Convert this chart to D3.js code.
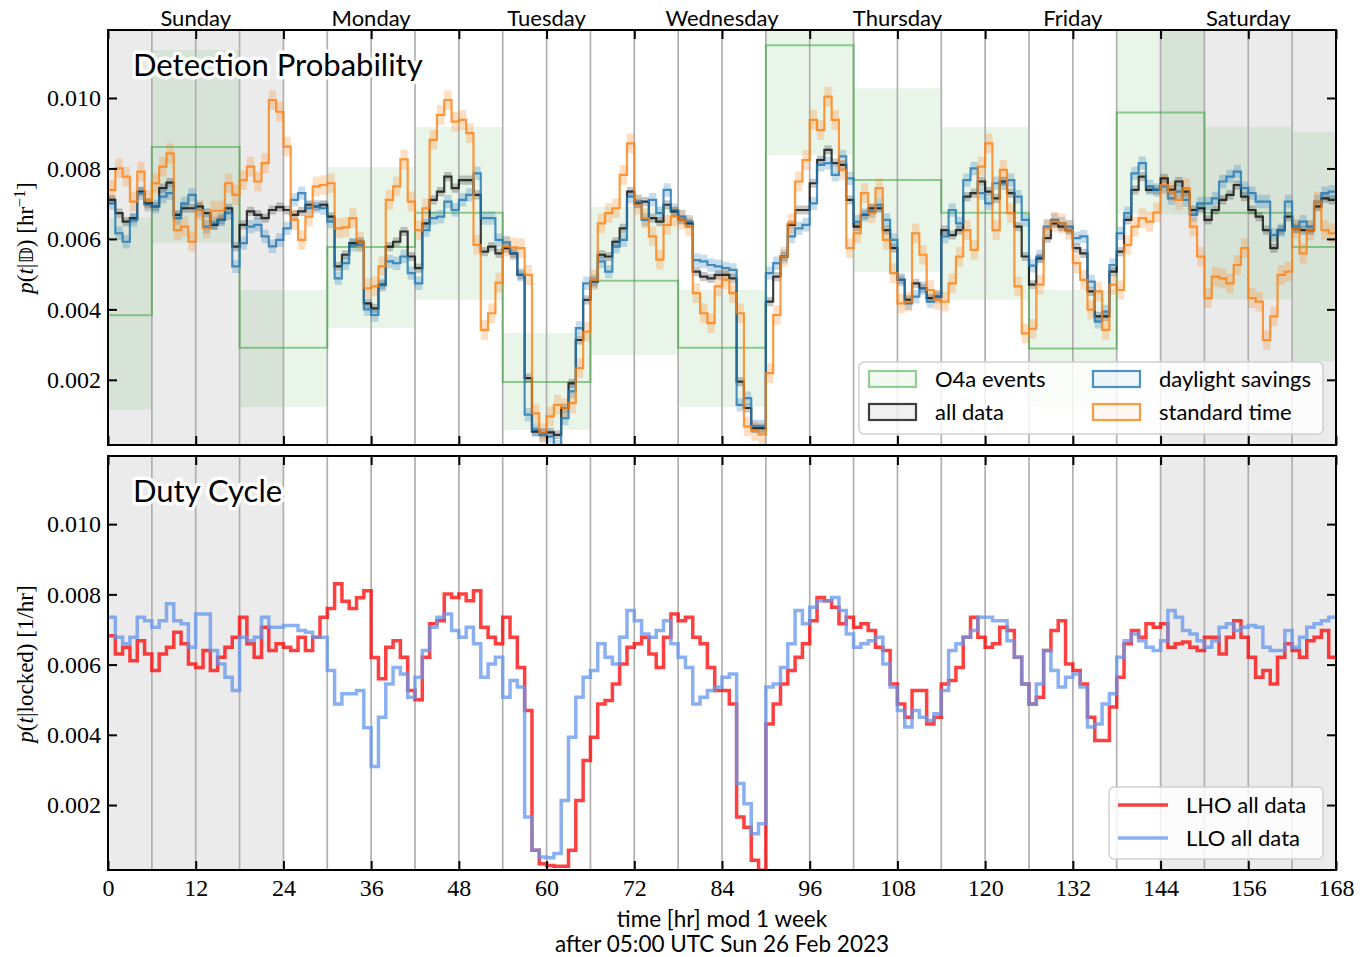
<!DOCTYPE html>
<html>
<head>
<meta charset="utf-8">
<script src="https://cdn.jsdelivr.net/npm/d3@7"></script>
<style>
  body { margin: 0; background: #fff; }
</style>
</head>
<body>
<svg id="chart" width="1366" height="957"></svg>
<script>
var SANS = 'Lato, "Open Sans", sans-serif'
var SERIF = '"Liberation Serif", "DejaVu Serif", serif'

// ---- data (rates in units of 1e-3 per hr), one value per hour, 0..167 ----
var dayNames = ['Sunday', 'Monday', 'Tuesday', 'Wednesday', 'Thursday', 'Friday', 'Saturday']
var dayCenters = [12, 36, 60, 84, 108, 132, 156]
var weekendSpans = [[0, 24], [144, 168]]
var xTicks = [0, 12, 24, 36, 48, 60, 72, 84, 96, 108, 120, 132, 144, 156, 168]
var yTicks = [2, 4, 6, 8, 10]
var gridHours = [6, 12, 18, 24, 30, 36, 42, 48, 54, 60, 66, 72, 78, 84, 90, 96, 102, 108, 114, 120, 126, 132, 138, 144, 150, 156, 162]

// O4a events: bin edges, rate and band
var o4aEdges = [0, 6, 18, 30, 42, 54, 66, 78, 90, 102, 114, 126, 138, 150, 162, 168]
var o4aRate = [3.83, 8.61, 2.91, 5.77, 6.74, 1.94, 4.81, 2.91, 11.5, 7.67, 6.74, 2.89, 9.59, 6.74, 5.77]
var o4aLow  = [1.15, 5.89, 1.23, 3.47, 4.27, 0.58, 2.71, 1.23, 8.38, 5.06, 4.27, 1.23, 6.69, 4.28, 2.53]
var o4aHigh = [6.60, 11.36, 4.55, 8.04, 9.18, 3.33, 6.91, 4.55, 14.6, 10.28, 9.18, 4.55, 12.5, 9.18, 9.04]

var allData = [
  7.11, 6.73, 6.49, 6.59, 7.34, 7.01, 6.92, 7.44, 7.60, 6.68,
  6.87, 6.87, 6.92, 6.73, 6.40, 6.54, 6.87, 5.78, 6.40, 6.78,
  6.68, 6.59, 6.82, 6.90, 6.82, 6.68, 6.78, 6.97, 6.92, 6.97,
  6.63, 5.22, 5.55, 5.88, 5.92, 4.17, 4.03, 4.70, 5.78, 5.92,
  6.21, 5.50, 5.17, 6.44, 7.11, 7.34, 7.77, 7.44, 7.67, 7.67,
  7.25, 5.64, 5.78, 5.59, 5.74, 5.59, 4.98, 2.05, 0.53, 0.49,
  0.51, 0.44, 1.20, 1.90, 3.13, 4.27, 4.79, 5.55, 5.50, 5.92,
  6.30, 7.34, 7.01, 7.06, 6.59, 6.49, 6.97, 6.78, 6.54, 6.44,
  5.07, 4.93, 4.88, 4.98, 4.98, 4.88, 1.95, 1.20, 0.63, 0.63,
  4.22, 4.93, 5.50, 6.40, 6.82, 6.82, 7.58, 8.24, 8.53, 8.15,
  8.10, 7.11, 6.35, 6.68, 6.87, 6.87, 6.25, 5.74, 4.84, 4.27,
  4.74, 4.60, 4.32, 4.36, 6.25, 6.11, 6.25, 7.20, 7.30, 7.63,
  7.34, 7.15, 7.63, 7.30, 6.35, 5.50, 4.70, 5.45, 6.02, 6.44,
  6.35, 6.25, 5.74, 5.59, 4.51, 3.80, 3.80, 5.07, 5.64, 6.54,
  7.39, 7.77, 7.39, 7.39, 7.72, 7.39, 7.63, 7.34, 6.82, 6.87,
  6.54, 6.82, 7.11, 7.25, 7.53, 7.20, 6.82, 6.63, 6.25, 5.74,
  6.25, 6.63, 6.30, 6.25, 6.25, 6.92, 7.15, 7.11
]
var daylight = [
  7.01, 6.16, 5.92, 6.54, 7.30, 6.97, 6.92, 7.20, 7.30, 6.59,
  7.01, 7.25, 6.82, 6.35, 6.44, 6.54, 6.73, 5.22, 5.88, 6.35,
  6.40, 6.07, 5.79, 5.97, 6.30, 7.11, 7.30, 6.87, 6.92, 6.87,
  6.49, 4.88, 5.31, 5.83, 5.83, 4.00, 3.84, 4.69, 5.36, 5.31,
  5.50, 5.03, 4.74, 6.25, 6.59, 6.63, 7.06, 6.82, 7.11, 7.25,
  7.86, 6.59, 6.59, 5.97, 5.90, 5.59, 4.98, 1.01, 0.58, 0.44,
  0.39, 0.10, 0.91, 1.67, 3.47, 4.74, 4.79, 5.36, 5.07, 5.78,
  5.97, 7.20, 7.06, 6.54, 7.11, 6.73, 7.39, 6.82, 6.63, 6.49,
  5.40, 5.36, 5.26, 5.22, 5.17, 5.12, 1.29, 1.48, 0.68, 0.68,
  5.03, 5.31, 5.50, 6.07, 6.30, 6.40, 7.01, 8.10, 8.15, 7.82,
  8.34, 7.72, 6.49, 6.68, 6.78, 6.97, 6.54, 5.97, 4.84, 4.17,
  4.36, 4.60, 4.22, 4.36, 6.07, 6.82, 6.44, 7.67, 8.00, 7.30,
  7.01, 7.58, 7.58, 7.67, 7.20, 6.54, 5.24, 5.50, 6.35, 6.54,
  6.44, 6.35, 6.02, 6.07, 4.79, 3.65, 3.94, 5.26, 6.16, 6.73,
  7.86, 8.15, 7.49, 7.39, 7.49, 7.15, 7.34, 7.11, 6.68, 7.01,
  7.01, 7.15, 7.63, 7.77, 7.91, 7.44, 7.30, 7.06, 7.06, 6.11,
  6.25, 7.06, 6.35, 6.49, 6.35, 7.06, 7.30, 7.34
]
var standard = [
  7.39, 8.00, 7.77, 7.06, 7.91, 7.11, 7.58, 8.05, 8.43, 6.25,
  6.35, 5.92, 6.82, 6.30, 6.80, 6.80, 7.58, 7.25, 7.67, 8.05,
  7.63, 8.15, 9.94, 9.61, 8.62, 6.54, 5.97, 6.63, 7.49, 7.53,
  7.58, 6.30, 6.33, 6.59, 5.92, 4.60, 4.65, 5.22, 7.11, 7.49,
  8.26, 7.06, 6.25, 6.87, 8.81, 9.52, 9.94, 9.33, 9.38, 9.00,
  5.83, 3.42, 3.89, 4.76, 5.78, 5.76, 5.74, 4.98, 1.05, 0.49,
  0.96, 1.29, 1.20, 1.34, 2.33, 3.37, 4.84, 6.44, 6.73, 6.87,
  7.82, 8.71, 6.97, 6.59, 6.07, 5.41, 6.40, 6.63, 6.54, 6.35,
  4.46, 3.89, 3.61, 4.65, 4.84, 4.46, 3.89, 0.68, 0.55, 0.45,
  2.19, 3.84, 5.50, 6.44, 7.63, 8.24, 9.38, 9.09, 10.04, 9.38,
  7.96, 5.74, 6.16, 7.30, 6.73, 7.44, 5.97, 5.03, 4.17, 4.22,
  6.16, 5.55, 4.55, 4.27, 4.22, 4.74, 5.50, 6.25, 5.69, 8.05,
  8.71, 6.25, 7.96, 6.73, 4.65, 3.32, 3.45, 4.70, 6.30, 6.49,
  6.44, 6.25, 5.31, 4.84, 3.99, 4.51, 3.42, 4.70, 4.55, 5.83,
  6.35, 6.59, 6.49, 6.75, 7.53, 7.34, 7.11, 7.44, 6.35, 5.50,
  4.32, 4.93, 4.88, 4.74, 5.26, 5.74, 4.32, 4.22, 3.13, 3.80,
  4.98, 5.07, 6.30, 5.59, 6.25, 7.06, 6.25, 6.16
]
// half-widths of the shaded uncertainty bands (1e-3 / hr)
var bandAll = 0.13, bandDaylight = 0.19, bandStandard = 0.28

var lho = [
  6.82, 6.30, 6.49, 6.11, 6.68, 6.30, 5.83, 6.30, 6.49, 6.92,
  6.59, 6.02, 5.92, 6.40, 5.83, 6.21, 6.49, 6.78, 7.35, 6.59,
  6.21, 7.06, 6.40, 6.59, 6.49, 6.40, 6.78, 6.40, 6.78, 7.35,
  7.60, 8.30, 7.80, 7.60, 7.90, 8.10, 6.20, 5.60, 6.49, 6.68,
  6.21, 5.26, 5.00, 6.21, 7.16, 7.25, 8.01, 7.91, 8.01, 7.82,
  8.10, 7.06, 6.78, 6.59, 7.35, 6.78, 5.92, 4.69, 0.71, 0.33,
  0.28, 0.26, 0.26, 0.71, 2.13, 3.27, 3.93, 4.88, 4.98, 5.45,
  6.02, 6.49, 6.59, 6.78, 6.30, 5.92, 6.78, 7.44, 7.25, 7.35,
  6.78, 6.59, 5.92, 5.26, 5.26, 4.88, 1.66, 1.37, 0.43, 0.14,
  4.31, 4.88, 5.45, 5.83, 6.21, 6.59, 7.25, 7.91, 7.82, 7.63,
  7.16, 7.35, 7.06, 7.16, 6.97, 6.49, 6.40, 5.45, 4.88, 4.50,
  5.26, 5.26, 4.31, 4.50, 5.45, 5.55, 5.92, 6.78, 7.35, 6.78,
  6.49, 6.59, 7.06, 6.97, 6.21, 5.45, 4.88, 5.07, 6.40, 6.97,
  7.25, 6.02, 5.83, 5.45, 4.50, 3.84, 3.84, 4.79, 5.64, 6.59,
  6.97, 6.78, 7.16, 7.06, 7.16, 6.49, 6.59, 6.64, 6.49, 6.40,
  6.78, 6.78, 6.30, 6.78, 7.25, 6.78, 6.21, 5.64, 5.83, 5.45,
  6.21, 6.59, 6.40, 6.21, 6.68, 6.78, 6.97, 6.21
]
var llo = [
  7.35, 6.78, 6.59, 6.78, 7.35, 7.25, 7.06, 7.25, 7.73, 7.25,
  7.16, 6.49, 7.44, 7.44, 6.40, 6.02, 5.64, 5.26, 6.78, 6.68,
  6.78, 7.35, 7.06, 7.06, 7.11, 7.11, 6.97, 6.92, 6.78, 6.78,
  5.83, 4.88, 5.17, 5.17, 5.26, 4.20, 3.10, 4.50, 5.45, 5.92,
  5.73, 5.07, 5.64, 6.40, 7.06, 7.35, 7.44, 6.97, 6.78, 7.06,
  6.59, 5.64, 6.02, 6.21, 5.07, 5.55, 5.36, 1.66, 0.71, 0.52,
  0.50, 0.62, 2.13, 3.93, 5.07, 5.64, 5.83, 6.59, 6.21, 6.02,
  6.78, 7.54, 7.25, 6.87, 6.78, 6.97, 7.25, 6.59, 6.21, 5.92,
  4.88, 5.07, 5.26, 5.36, 5.64, 5.73, 2.61, 2.04, 1.18, 1.47,
  5.36, 5.45, 5.92, 6.59, 7.54, 7.16, 7.63, 7.82, 7.82, 7.91,
  7.54, 6.87, 6.49, 6.59, 6.68, 6.78, 6.02, 5.36, 4.69, 4.22,
  4.69, 4.50, 4.41, 4.60, 5.26, 6.40, 6.59, 6.78, 6.97, 7.35,
  7.35, 7.25, 7.25, 6.68, 6.21, 5.45, 4.88, 5.45, 6.40, 5.83,
  5.36, 5.64, 5.73, 5.36, 4.22, 4.31, 4.88, 5.17, 6.21, 6.68,
  6.87, 6.68, 6.49, 6.40, 6.68, 7.54, 7.35, 6.97, 6.87, 6.68,
  6.49, 6.68, 7.06, 7.16, 6.97, 7.06, 7.11, 7.06, 6.49, 6.40,
  6.40, 6.97, 6.49, 6.78, 7.06, 7.16, 7.25, 7.35
]

// ---- layout ----
var left = 108, right = 1336
var top1 = 30, bot1 = 445, top2 = 456, bot2 = 870
var tickLen = 9

var svg = d3.select('#chart')

var x = d3.scaleLinear().domain([0, 168]).range([left, right])
var y1 = d3.scaleLinear().domain([0.15, 11.93]).range([bot1, top1])
var y2 = d3.scaleLinear().domain([0.15, 11.94]).range([bot2, top2])

function stepPoints(vals) {
  var pts = vals.map(function (v, i) { return [i, v] })
  pts.push([vals.length, vals[vals.length - 1]])
  return pts
}

function clip(id, t, b) {
  svg.append('clipPath').attr('id', id)
    .append('rect').attr('x', left).attr('y', t).attr('width', right - left).attr('height', b - t)
}
clip('clipTop', top1, bot1)
clip('clipBot', top2, bot2)

function drawBackground(g, t, b) {
  g.selectAll('rect.weekend')
    .data(weekendSpans)
    .enter().append('rect')
    .attr('class', 'weekend')
    .attr('x', function (d) { return x(d[0]) })
    .attr('width', function (d) { return x(d[1]) - x(d[0]) })
    .attr('y', t).attr('height', b - t)
    .attr('fill', '#000').attr('fill-opacity', 0.08)
}

function drawGrid(g, t, b) {
  g.selectAll('line.grid')
    .data(gridHours)
    .enter().append('line')
    .attr('class', 'grid')
    .attr('x1', function (d) { return x(d) }).attr('x2', function (d) { return x(d) })
    .attr('y1', t).attr('y2', b)
    .attr('stroke', '#b0b0b0').attr('stroke-width', 1.7)
}

function drawAxes(g, y, t, b, labelX) {
  g.append('g')
    .attr('transform', 'translate(' + left + ',0)')
    .call(d3.axisLeft(y).tickValues(yTicks).tickSize(-tickLen).tickPadding(7)
      .tickFormat(function (d) { return d3.format('.3f')(d / 1000) }))
  g.append('g')
    .attr('transform', 'translate(' + right + ',0)')
    .call(d3.axisRight(y).tickValues(yTicks).tickSize(-tickLen).tickFormat(''))
  g.append('g')
    .attr('transform', 'translate(0,' + t + ')')
    .call(d3.axisTop(x).tickValues(xTicks).tickSize(-tickLen).tickFormat(''))
  g.append('g')
    .attr('transform', 'translate(0,' + b + ')')
    .call(d3.axisBottom(x).tickValues(xTicks).tickSize(-tickLen).tickPadding(9)
      .tickFormat(labelX ? d3.format('d') : ''))
  g.selectAll('.domain').remove()
  g.selectAll('.tick line').attr('stroke', '#000').attr('stroke-width', 2)
  g.selectAll('.tick text')
    .style('font-family', SERIF).style('font-size', '24px').attr('fill', '#000')
  g.append('rect')
    .attr('x', left).attr('y', t).attr('width', right - left).attr('height', b - t)
    .attr('fill', 'none').attr('stroke', '#000').attr('stroke-width', 2)
}

function title(txt, ty) {
  svg.append('text')
    .style('font-family', SANS).style('font-size', '31px')
    .attr('x', 133).attr('y', ty)
    .attr('stroke', '#fff').attr('stroke-width', 7).attr('stroke-linejoin', 'round')
    .attr('paint-order', 'stroke')
    .attr('fill', '#000')
    .text(txt)
}

// ================= top panel =================
var gTop = svg.append('g')
drawBackground(gTop, top1, bot1)

var gTopData = gTop.append('g').attr('clip-path', 'url(#clipTop)')

var o4aBins = o4aRate.map(function (r, i) {
  return { x0: o4aEdges[i], x1: o4aEdges[i + 1], r: r, lo: o4aLow[i], hi: o4aHigh[i] }
})
gTopData.selectAll('rect.o4aband')
  .data(o4aBins)
  .enter().append('rect')
  .attr('x', function (d) { return x(d.x0) })
  .attr('width', function (d) { return x(d.x1) - x(d.x0) })
  .attr('y', function (d) { return y1(d.hi) })
  .attr('height', function (d) { return y1(d.lo) - y1(d.hi) })
  .attr('fill', '#2ca02c').attr('fill-opacity', 0.1)

drawGrid(gTop, top1, bot1)

var gTopLines = gTop.append('g').attr('clip-path', 'url(#clipTop)')

// O4a step line
var o4aPts = o4aBins.map(function (d) { return [d.x0, d.r] })
o4aPts.push([168, o4aRate[o4aRate.length - 1]])
gTopLines.append('path')
  .datum(o4aPts)
  .attr('d', d3.line().x(function (d) { return x(d[0]) }).y(function (d) { return y1(d[1]) }).curve(d3.curveStepAfter))
  .attr('fill', 'none').attr('stroke', '#2ca02c').attr('stroke-opacity', 0.5).attr('stroke-width', 2)

var series = [
  { vals: allData, color: '#000000', band: bandAll, lineOp: 0.75, bandOp: 0.22 },
  { vals: daylight, color: '#1f77b4', band: bandDaylight, lineOp: 0.8, bandOp: 0.25 },
  { vals: standard, color: '#ff7f0e', band: bandStandard, lineOp: 0.78, bandOp: 0.25 }
]
series.forEach(function (s) {
  var area = d3.area()
    .x(function (d) { return x(d[0]) })
    .y0(function (d) { return y1(d[1] - s.band) })
    .y1(function (d) { return y1(d[1] + s.band) })
    .curve(d3.curveStepAfter)
  gTopLines.append('path')
    .datum(stepPoints(s.vals))
    .attr('d', area)
    .attr('fill', s.color).attr('fill-opacity', s.bandOp)
})
series.forEach(function (s) {
  var line = d3.line()
    .x(function (d) { return x(d[0]) })
    .y(function (d) { return y1(d[1]) })
    .curve(d3.curveStepAfter)
  gTopLines.append('path')
    .datum(stepPoints(s.vals))
    .attr('d', line)
    .attr('fill', 'none')
    .attr('stroke', s.color).attr('stroke-opacity', s.lineOp).attr('stroke-width', 2.2)
})

drawAxes(gTop, y1, top1, bot1, false)

// day names along the top
svg.append('g').selectAll('text.day')
  .data(dayNames)
  .enter().append('text')
  .style('font-family', SANS).style('font-size', '22px')
  .attr('x', function (d, i) { return x(dayCenters[i]) })
  .attr('y', 26)
  .attr('text-anchor', 'middle')
  .text(function (d) { return d })

title('Detection Probability', 76)

// top legend
var legTop = svg.append('g')
legTop.append('rect')
  .attr('x', 859).attr('y', 362).attr('width', 464).attr('height', 72).attr('rx', 5)
  .attr('fill', '#fff').attr('fill-opacity', 0.82)
  .attr('stroke', '#d0d0d0').attr('stroke-width', 1.5)
var legItems = [
  { label: 'O4a events', color: '#2ca02c', op: 0.5, col: 0, row: 0 },
  { label: 'all data', color: '#000000', op: 0.75, col: 0, row: 1 },
  { label: 'daylight savings', color: '#1f77b4', op: 0.8, col: 1, row: 0 },
  { label: 'standard time', color: '#ff7f0e', op: 0.78, col: 1, row: 1 }
]
legItems.forEach(function (d) {
  var px = d.col === 0 ? 869 : 1093
  var py = d.row === 0 ? 371 : 404
  legTop.append('rect')
    .attr('x', px).attr('y', py).attr('width', 47).attr('height', 16)
    .attr('fill', d.color).attr('fill-opacity', 0.06)
    .attr('stroke', d.color).attr('stroke-opacity', d.op).attr('stroke-width', 2.2)
  legTop.append('text')
    .style('font-family', SANS).style('font-size', '22px')
    .attr('x', px + 66).attr('y', py + 16)
    .text(d.label)
})

// y label top
var yl1 = svg.append('text')
  .style('font-family', SERIF).style('font-size', '23px')
  .attr('transform', 'translate(33,' + 238 + ') rotate(-90)')
  .attr('text-anchor', 'middle')
yl1.append('tspan').attr('font-style', 'italic').text('p')
yl1.append('tspan').text('(')
yl1.append('tspan').attr('font-style', 'italic').text('t')
yl1.append('tspan').text('|')
yl1.append('tspan').style('font-family', '"DejaVu Sans", sans-serif').style('font-size', '20px').text('\u{1D53B}')
yl1.append('tspan').text(') [hr')
yl1.append('tspan').attr('baseline-shift', 'super').style('font-size', '16px').text('\u22121')
yl1.append('tspan').text(']')

// ================= bottom panel =================
var gBot = svg.append('g')
drawBackground(gBot, top2, bot2)
drawGrid(gBot, top2, bot2)

var gBotLines = gBot.append('g').attr('clip-path', 'url(#clipBot)')
var detSeries = [
  { vals: lho, color: '#ff0000', op: 0.75 },
  { vals: llo, color: '#6495ed', op: 0.75 }
]
detSeries.forEach(function (s) {
  var line = d3.line()
    .x(function (d) { return x(d[0]) })
    .y(function (d) { return y2(d[1]) })
    .curve(d3.curveStepAfter)
  gBotLines.append('path')
    .datum(stepPoints(s.vals))
    .attr('d', line)
    .attr('fill', 'none')
    .attr('stroke', s.color).attr('stroke-opacity', s.op).attr('stroke-width', 3.5)
})

drawAxes(gBot, y2, top2, bot2, true)

title('Duty Cycle', 502)

// bottom legend
var legBot = svg.append('g')
legBot.append('rect')
  .attr('x', 1109).attr('y', 787).attr('width', 214).attr('height', 72).attr('rx', 5)
  .attr('fill', '#fff').attr('fill-opacity', 0.82)
  .attr('stroke', '#d0d0d0').attr('stroke-width', 1.5)
var legDet = [
  { label: 'LHO all data', color: '#ff0000', op: 0.75, yy: 805 },
  { label: 'LLO all data', color: '#6495ed', op: 0.75, yy: 838 }
]
legDet.forEach(function (d) {
  legBot.append('line')
    .attr('x1', 1118).attr('x2', 1168).attr('y1', d.yy).attr('y2', d.yy)
    .attr('stroke', d.color).attr('stroke-opacity', d.op).attr('stroke-width', 3.5)
  legBot.append('text')
    .style('font-family', SANS).style('font-size', '22px')
    .attr('x', 1186).attr('y', d.yy + 8)
    .text(d.label)
})

// y label bottom
var yl2 = svg.append('text')
  .style('font-family', SERIF).style('font-size', '23px')
  .attr('transform', 'translate(33,' + 664 + ') rotate(-90)')
  .attr('text-anchor', 'middle')
yl2.append('tspan').attr('font-style', 'italic').text('p')
yl2.append('tspan').text('(')
yl2.append('tspan').attr('font-style', 'italic').text('t')
yl2.append('tspan').text('|locked) [1/hr]')

// x label
svg.append('text')
  .style('font-family', SANS).style('font-size', '22.5px')
  .attr('x', (left + right) / 2).attr('y', 927)
  .attr('text-anchor', 'middle')
  .text('time [hr] mod 1 week')
svg.append('text')
  .style('font-family', SANS).style('font-size', '22.5px')
  .attr('x', (left + right) / 2).attr('y', 952)
  .attr('text-anchor', 'middle')
  .text('after 05:00 UTC Sun 26 Feb 2023')
</script>
</body>
</html>
